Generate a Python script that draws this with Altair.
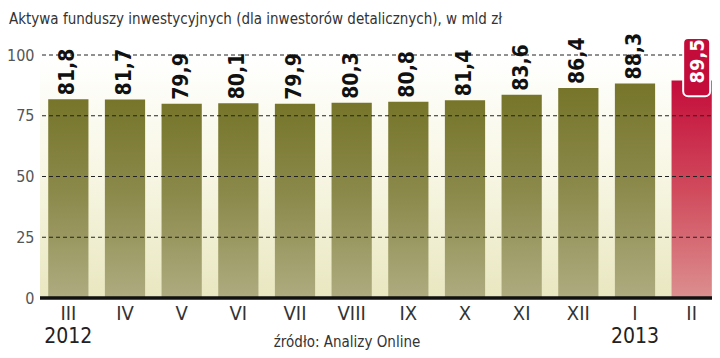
import altair as alt
import pandas as pd

months = ["III", "IV", "V", "VI", "VII", "VIII", "IX", "X", "XI", "XII", "I", "II"]
values = [81.8, 81.7, 79.9, 80.1, 79.9, 80.3, 80.8, 81.4, 83.6, 86.4, 88.3, 89.5]
value_labels = ["81,8", "81,7", "79,9", "80,1", "79,9", "80,3", "80,8", "81,4", "83,6", "86,4", "88,3", "89,5"]
highlight = [False] * 11 + [True]
year_months = ["III", "I"]
years = ["2012", "2013"]
grid_values = [25, 50, 75, 100]
y_ticks = [0, 25, 50, 75, 100]

title_text = "Aktywa funduszy inwestycyjnych (dla inwestorów detalicznych), w mld zł"
source_text = "źródło: Analizy Online"

W, H = 672, 243
COND = "DejaVu Sans Condensed, Liberation Sans Narrow, sans-serif"

df = pd.DataFrame({"month": months, "value": values, "label": value_labels, "hl": highlight})
df_years = pd.DataFrame({"month": year_months, "year": years})
df_grid = pd.DataFrame({"g": grid_values})
one = pd.DataFrame({"a": [0]})

xscale = alt.Scale(domain=months, range=[0, 680], paddingInner=0.29, paddingOuter=0.145)
yscale = alt.Scale(domain=[0, 100])

bg = alt.Chart(one).mark_rect(
    fill=alt.Gradient(gradient="linear", x1=0, y1=0, x2=0, y2=1,
                      stops=[alt.GradientStop(color="#ffffff", offset=0),
                             alt.GradientStop(color="#f8f7e6", offset=0.45),
                             alt.GradientStop(color="#e9e7c0", offset=1)])
).encode(x=alt.value(0), x2=alt.value(W), y=alt.value(0), y2=alt.value(H))

base = alt.Chart(df)

olive = base.transform_filter("!datum.hl").mark_bar(
    fill=alt.Gradient(gradient="linear", x1=0, y1=0, x2=0, y2=1,
                      stops=[alt.GradientStop(color="#76752a", offset=0),
                             alt.GradientStop(color="#8d8b4d", offset=0.5),
                             alt.GradientStop(color="#aeac80", offset=1)])
).encode(
    x=alt.X("month:N", scale=xscale, sort=months,
            axis=alt.Axis(title=None, domain=False, ticks=False, labelAngle=0,
                          labelFont=COND, labelFontSize=20, labelColor="#333333",
                          labelPadding=5)),
    y=alt.Y("value:Q", scale=yscale,
            axis=alt.Axis(title=None, values=y_ticks, grid=False, domain=False, ticks=False,
                          labelFont=COND, labelFontSize=16, labelColor="#555555",
                          labelPadding=6)),
)

red = base.transform_filter("datum.hl").mark_bar(
    fill=alt.Gradient(gradient="linear", x1=0, y1=0, x2=0, y2=1,
                      stops=[alt.GradientStop(color="#c40c3a", offset=0),
                             alt.GradientStop(color="#d04a5c", offset=0.5),
                             alt.GradientStop(color="#dc8f8f", offset=1)])
).encode(x=alt.X("month:N", scale=xscale, sort=months), y=alt.Y("value:Q", scale=yscale))

grid = alt.Chart(df_grid).mark_rule(color="#222222", strokeDash=[4, 3], strokeWidth=1).encode(
    y=alt.Y("g:Q", scale=yscale), x=alt.value(2), x2=alt.value(W))

baseline = alt.Chart(one).mark_rule(color="#111111", strokeWidth=3.5).encode(
    y=alt.datum(0, scale=yscale), x=alt.value(0), x2=alt.value(W))

labels = base.transform_filter("!datum.hl").mark_text(
    angle=270, align="left", baseline="middle", dx=4, font=COND, fontWeight="bold",
    fontSize=21, color="#111111"
).encode(x=alt.X("month:N", scale=xscale, sort=months), y=alt.Y("value:Q", scale=yscale),
         text="label:N")

tag = base.transform_filter("datum.hl").transform_calculate(
    lo="datum.value - 6.5", hi="datum.value + 17.5"
).mark_bar(width=27, xOffset=5, color="#c40c3a", cornerRadius=5, stroke="white", strokeWidth=2).encode(
    x=alt.X("month:N", scale=xscale, sort=months), y=alt.Y("lo:Q", scale=yscale), y2="hi:Q")

tag_text = base.transform_filter("datum.hl").mark_text(
    angle=270, align="left", baseline="middle", dx=-3, xOffset=6, font=COND, fontWeight="bold",
    fontSize=20, color="white"
).encode(x=alt.X("month:N", scale=xscale, sort=months), y=alt.Y("value:Q", scale=yscale),
         text="label:N")

year_text = alt.Chart(df_years).mark_text(
    baseline="middle", font=COND, fontSize=21, color="#222222"
).encode(x=alt.X("month:N", scale=xscale, sort=months), y=alt.value(H + 39), text="year:N")

title = alt.Chart(one).mark_text(
    align="left", baseline="middle", font=COND, fontSize=15, color="#333333", text=title_text
).encode(x=alt.value(-31), y=alt.value(-36))

source = alt.Chart(one).mark_text(
    align="center", baseline="middle", font=COND, fontSize=15, color="#333333", text=source_text
).encode(x=alt.value(307), y=alt.value(H + 44))

chart = alt.layer(bg, olive, red, grid, baseline, labels, tag, tag_text, year_text, title, source).properties(
    width=W, height=H,
    autosize=alt.AutoSizeParams(type="none"),
    padding={"left": 32, "top": 47, "right": 0, "bottom": 52},
    background="white",
).configure_view(stroke=None)

chart.save("out.html", embed_options={"renderer": "svg", "actions": False})
